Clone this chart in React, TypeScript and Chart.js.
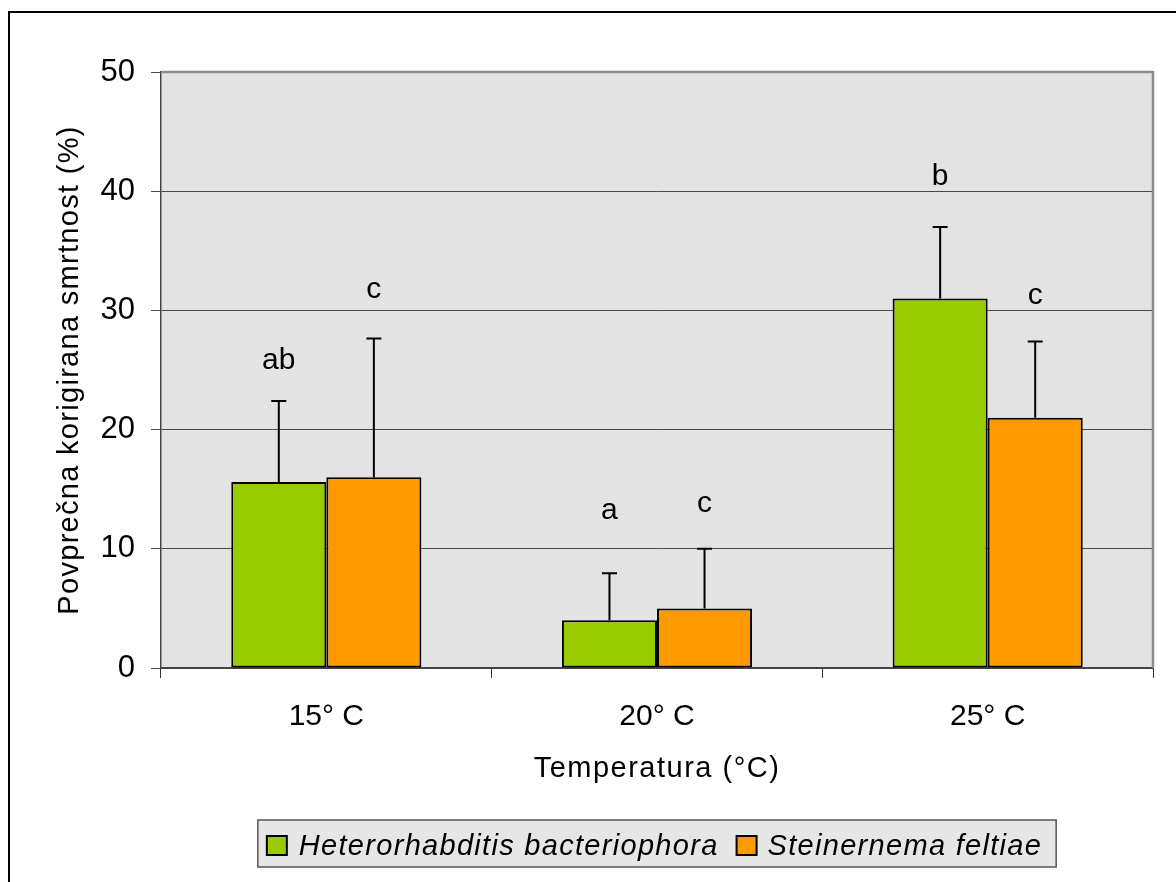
import React, { useEffect, useRef } from "react";
import { Chart, registerables } from "chart.js";

Chart.register(...registerables);

// ---- data ----
const categories = ["15° C", "20° C", "25° C"];
const seriesNames = ["Heterorhabditis bacteriophora", "Steinernema feltiae"];
const heteroMean = [15.6, 4.0, 31.0];
const heteroErr = [6.8, 3.95, 6.0];
const steinMean = [16.0, 5.0, 21.0];
const steinErr = [11.65, 5.0, 6.4];
const heteroLetters = ["ab", "a", "b"];
const steinLetters = ["c", "c", "c"];
const heteroLetterY = [25.1, 12.5, 40.5];
const steinLetterY = [31.0, 13.1, 30.5];
const yMin = 0;
const yMax = 50;
const yStep = 10;
const xTitle = "Temperatura (°C)";
const yTitle = "Povprečna korigirana smrtnost (%)";

const FONT = "'Liberation Sans', Arial, Helvetica, sans-serif";
const GREEN = "#99CC00";
const ORANGE = "#FF9900";

const errs = [heteroErr, steinErr];
const letters = [heteroLetters, steinLetters];
const letterY = [heteroLetterY, steinLetterY];
const colors = [GREEN, ORANGE];

const overlay = {
  id: "overlay",
  beforeDraw(chart: any) {
    const { ctx, chartArea: a } = chart;
    ctx.save();
    ctx.fillStyle = "#ffffff";
    ctx.fillRect(0, 0, chart.width, chart.height);
    ctx.strokeStyle = "#000";
    ctx.lineWidth = 2;
    ctx.strokeRect(9, 12, chart.width + 40, chart.height + 40);
    ctx.fillStyle = "#E3E3E3";
    ctx.fillRect(a.left, a.top, a.right - a.left, a.bottom - a.top);
    ctx.restore();
  },
  afterDatasetsDraw(chart: any) {
    const { ctx } = chart;
    const ys = chart.scales.y;
    ctx.save();
    for (let i = 0; i < 2; i++) {
      const meta = chart.getDatasetMeta(i);
      const ds = chart.data.datasets[i];
      meta.data.forEach((bar: any, j: number) => {
        const v = ds.data[j] as number;
        const top = ys.getPixelForValue(v + errs[i][j]);
        const base = ys.getPixelForValue(v);
        ctx.strokeStyle = "#000";
        ctx.lineWidth = 2;
        ctx.beginPath();
        ctx.moveTo(bar.x, base);
        ctx.lineTo(bar.x, top);
        ctx.moveTo(bar.x - 7.5, top);
        ctx.lineTo(bar.x + 7.5, top);
        ctx.stroke();
        ctx.fillStyle = "#000";
        ctx.font = `30px ${FONT}`;
        ctx.textAlign = "center";
        ctx.textBaseline = "alphabetic";
        ctx.fillText(letters[i][j], bar.x, ys.getPixelForValue(letterY[i][j]));
      });
    }
    ctx.restore();
  },
  afterDraw(chart: any) {
    const { ctx, chartArea: a } = chart;
    ctx.save();
    // plot frame top/right
    ctx.strokeStyle = "#8C8C8C";
    ctx.lineWidth = 2.5;
    ctx.beginPath();
    ctx.moveTo(a.left, a.top);
    ctx.lineTo(a.right, a.top);
    ctx.lineTo(a.right, a.bottom);
    ctx.stroke();

    // titles
    ctx.fillStyle = "#000";
    ctx.font = `29px ${FONT}`;
    ctx.textAlign = "center";
    ctx.textBaseline = "alphabetic";
    (ctx as any).letterSpacing = "1.5px";
    ctx.fillText(xTitle, (a.left + a.right) / 2, 777);
    (ctx as any).letterSpacing = "1.3px";
    ctx.save();
    ctx.translate(78, (a.top + a.bottom) / 2);
    ctx.rotate(-Math.PI / 2);
    ctx.fillText(yTitle, 0, 0);
    ctx.restore();

    // legend
    ctx.font = `italic 29px ${FONT}`;
    (ctx as any).letterSpacing = "1.3px";
    const w1 = ctx.measureText(seriesNames[0]).width;
    const w2 = ctx.measureText(seriesNames[1]).width;
    const sq = 20;
    const total = 9 + sq + 12 + w1 + 18 + sq + 11 + w2 + 14;
    const cx = (a.left + a.right) / 2;
    const left = cx - total / 2;
    const top = 820;
    const bottom = 867;
    ctx.fillStyle = "#E6E6E6";
    ctx.fillRect(left, top, total, bottom - top);
    ctx.strokeStyle = "#555";
    ctx.lineWidth = 1.5;
    ctx.strokeRect(left, top, total, bottom - top);
    let x = left + 9;
    const widths = [w1, w2];
    for (let i = 0; i < 2; i++) {
      ctx.fillStyle = colors[i];
      ctx.fillRect(x, 836, sq, 19);
      ctx.strokeStyle = "#000";
      ctx.lineWidth = 2;
      ctx.strokeRect(x, 836, sq, 19);
      x += sq + (i === 0 ? 12 : 11);
      ctx.fillStyle = "#000";
      ctx.textAlign = "left";
      ctx.fillText(seriesNames[i], x, 855);
      x += widths[i] + 18;
    }
    ctx.restore();
  },
};

export default function App() {
  const ref = useRef<HTMLCanvasElement | null>(null);
  useEffect(() => {
    if (!ref.current) return;
    const chart = new Chart(ref.current, {
      type: "bar",
      data: {
        labels: categories,
        datasets: [
          {
            label: seriesNames[0],
            data: heteroMean,
            backgroundColor: GREEN,
            borderColor: "#000",
            borderWidth: 2,
            borderSkipped: false,
            categoryPercentage: 0.575,
            barPercentage: 1.0,
          },
          {
            label: seriesNames[1],
            data: steinMean,
            backgroundColor: ORANGE,
            borderColor: "#000",
            borderWidth: 2,
            borderSkipped: false,
            categoryPercentage: 0.575,
            barPercentage: 1.0,
          },
        ],
      },
      options: {
        animation: false,
        responsive: false,
        devicePixelRatio: 1,
        layout: { padding: { top: 72, right: 23, left: 0, bottom: 0 } },
        plugins: {
          legend: { display: false },
          tooltip: { enabled: false },
          title: { display: false },
        },
        scales: {
          x: {
            type: "category",
            offset: true,
            grid: {
              offset: true,
              drawOnChartArea: false,
              drawTicks: true,
              tickLength: 10,
              color: "#333",
              lineWidth: 1,
            },
            border: { display: true, color: "#444", width: 2 },
            ticks: {
              color: "#000",
              font: { family: FONT, size: 30 },
              padding: 21,
              maxRotation: 0,
            },
            afterFit: (s: any) => {
              s.height = 214;
            },
          },
          y: {
            min: yMin,
            max: yMax,
            ticks: {
              stepSize: yStep,
              color: "#000",
              font: { family: FONT, size: 31 },
              padding: 16,
            },
            grid: {
              color: "#4a4a4a",
              lineWidth: 1,
              tickLength: 10,
            },
            border: { display: true, color: "#444", width: 1.5 },
            afterFit: (s: any) => {
              s.width = 161;
            },
          },
        },
      },
      plugins: [overlay],
    });
    return () => chart.destroy();
  }, []);
  return (
    <div style={{ position: "absolute", left: 0, top: 0, width: 1176, height: 882 }}>
      <canvas ref={ref} width={1176} height={882} style={{ width: 1176, height: 882 }} />
    </div>
  );
}
